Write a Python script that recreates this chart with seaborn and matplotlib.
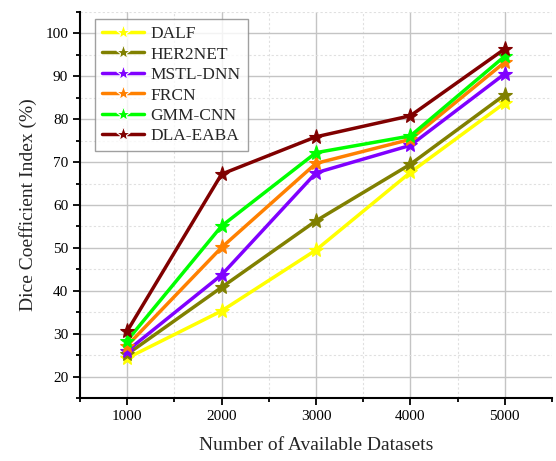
import matplotlib
matplotlib.use("Agg")
import matplotlib.pyplot as plt
from matplotlib.ticker import MultipleLocator
import seaborn as sns
import pandas as pd

datasets = [1000, 2000, 3000, 4000, 5000]
methods = ["DALF", "HER2NET", "MSTL-DNN", "FRCN", "GMM-CNN", "DLA-EABA"]
dalf = [24.3, 35.3, 49.5, 67.6, 83.8]
her2net = [25.2, 40.8, 56.3, 69.5, 85.7]
mstl_dnn = [26.0, 43.7, 67.5, 73.9, 90.6]
frcn = [27.2, 50.1, 69.7, 75.3, 93.3]
gmm_cnn = [28.4, 55.1, 72.2, 76.1, 94.7]
dla_eaba = [30.6, 67.2, 75.9, 80.8, 96.4]
colors = ["#FFFF00", "#808000", "#8000FF", "#FF8000", "#00FF00", "#800000"]

series = [dalf, her2net, mstl_dnn, frcn, gmm_cnn, dla_eaba]
rows = []
for m, vals in zip(methods, series):
    for x, v in zip(datasets, vals):
        rows.append({"x": x, "y": v, "Method": m})
df = pd.DataFrame(rows)

sns.set_style("white")
plt.rcParams["font.family"] = ["Liberation Serif", "DejaVu Serif"]

fig = plt.figure(figsize=(5.56, 4.61), dpi=100)
ax = fig.add_axes([0.1439, 0.1367, 0.9928 - 0.1439, 0.974 - 0.1367])

sns.lineplot(data=df, x="x", y="y", hue="Method", hue_order=methods,
             palette=colors, marker="*", markersize=11, linewidth=2.5,
             markeredgewidth=0.8, ax=ax, legend=True)
for ln, c in zip(ax.get_lines(), colors):
    ln.set_markeredgecolor(c)

ax.set_xlim(500, 5500)
ax.set_ylim(15, 105)
ax.xaxis.set_major_locator(MultipleLocator(1000))
ax.xaxis.set_minor_locator(MultipleLocator(500))
ax.yaxis.set_major_locator(MultipleLocator(10))
ax.yaxis.set_minor_locator(MultipleLocator(5))
ax.set_yticks(range(20, 101, 10))

ax.grid(which="major", color="#C4C4C4", linewidth=1.0, linestyle="-")
ax.grid(which="minor", color="#E0E0E0", linewidth=0.8, linestyle=(0, (2, 2)))
ax.set_axisbelow(True)

for s in ["top", "right"]:
    ax.spines[s].set_visible(False)
for s in ["left", "bottom"]:
    ax.spines[s].set_color("black")
    ax.spines[s].set_linewidth(1.5)

ax.tick_params(which="major", direction="out", length=5, width=1.3, colors="black",
               labelsize=11, left=True, bottom=True)
ax.tick_params(which="minor", direction="out", length=3, width=1.3, colors="black",
               left=True, bottom=True)

ax.set_xlabel("Number of Available Datasets", fontsize=14, labelpad=10)
ax.set_ylabel("Dice Coefficient Index (%)", fontsize=14, labelpad=6)

leg = ax.legend(loc="upper left", bbox_to_anchor=(0.032, 0.982), fontsize=12.5,
                frameon=True, fancybox=False, edgecolor="#888888",
                handlelength=2.4, labelspacing=0.25, borderpad=0.4,
                handletextpad=0.4, borderaxespad=0.0, title=None)
leg.get_frame().set_linewidth(1.0)
for h in leg.legend_handles:
    h.set_linewidth(2.5)
    h.set_markersize(11)

fig.savefig("out.png", dpi=100)
